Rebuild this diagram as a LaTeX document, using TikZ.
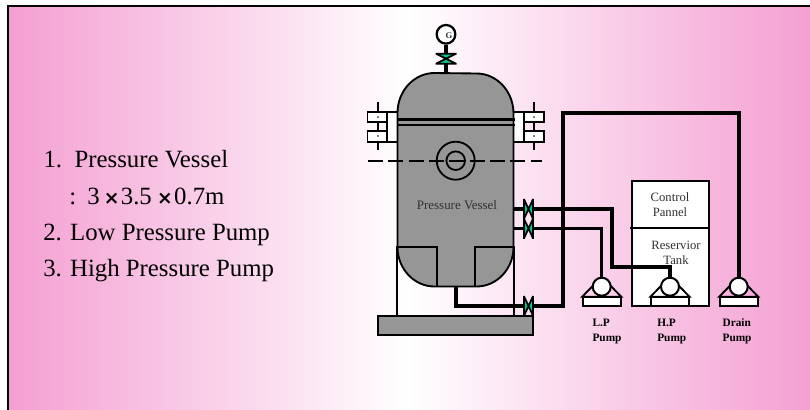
\documentclass[tikz,border=0pt]{standalone}
\usepackage{fontspec}
\setmainfont{Liberation Serif}
\newfontfamily\symfont{DejaVu Sans}
\definecolor{pinkE}{HTML}{F49FD2}
\definecolor{steel}{HTML}{969696}
\definecolor{valve}{HTML}{00C896}
\definecolor{labelgrey}{HTML}{303030}
\pgfdeclarehorizontalshading{bgshade}{100bp}{color(0bp)=(pinkE); color(25bp)=(pinkE); color(50bp)=(white); color(75bp)=(pinkE); color(100bp)=(pinkE)}
\tikzset{
  x=0.75pt,y=-0.75pt,
  fine/.style={draw=black,line width=1.35pt},
  pipe/.style={draw=black,line width=2.9pt},
  body/.style={draw=black,line width=1.4pt,fill=steel},
  whitebox/.style={draw=black,line width=1.35pt,fill=white},
  listtext/.style={font=\fontsize{18.6}{22}\selectfont,anchor=base west,inner sep=0pt},
  boxtext/.style={font=\fontsize{9.5}{11.25}\selectfont,align=center,inner sep=0pt,anchor=north,text=labelgrey},
  pumptext/.style={font=\fontsize{8.5}{11.25}\selectfont\bfseries,align=left,inner sep=0pt,anchor=north west},
  pumpcircle/.style={circle,draw=black,line width=1.5pt,fill=white,minimum size=13.5pt,inner sep=0pt},
}
\newcommand{\crossmark}{{\symfont\fontsize{14}{14}\selectfont\bfseries ×}}
\newcommand{\hvalve}[2]{%
  \fill[valve] (#1-4,#2-8) -- (#1-4,#2+8) -- (#1+0.5,#2) -- cycle;
  \fill[valve] (#1+4,#2-8) -- (#1+4,#2+8) -- (#1-0.5,#2) -- cycle;
  \draw[black,line width=1.7pt] (#1-4.6,#2-10) -- (#1-4.6,#2+10) (#1+4.6,#2-10) -- (#1+4.6,#2+10);
  \draw[black,line width=1.3pt] (#1-4.6,#2-10) -- (#1+4.6,#2+10) (#1+4.6,#2-10) -- (#1-4.6,#2+10);
}
\newcommand{\pumpunit}[2]{%
  \draw[whitebox] (#1-19,296.7) rectangle (#1+19,306);
  \draw[fine,line width=1.4pt] (#1-19.5,296.7) -- (#1,276.7) -- (#1+19.5,296.7) -- cycle;
  \node[pumpcircle] (#2) at (#1,286.7) {};
}
\begin{document}
\begin{tikzpicture}
\useasboundingbox (0,0) rectangle (810,410);
\fill[white] (0,0) rectangle (810,410);
\shade[shading=bgshade] (8,6) rectangle (810,410);
\draw[black,line width=1.5pt] (8,410) -- (8,6) -- (810,6);

% list
\node[listtext] (l1) at (43.3,167.3) {1.\ \ Pressure Vessel};
\node[listtext] (l2) at (69,204) {:\hspace{8.5pt}3\hspace{3pt}\crossmark\hspace{1pt}3.5\hspace{4pt}\crossmark\hspace{1pt}0.7m};
\node[listtext] (l3) at (43,240) {2. Low Pressure Pump};
\node[listtext] (l4) at (43,276) {3. High Pressure Pump};

% left flange
\draw[fine] (378,102) -- (378,149.5);
\draw[whitebox] (387,112) rectangle (398,142);
\draw[whitebox] (367.5,112) rectangle (387,122);
\draw[whitebox] (367.5,131) rectangle (387,142);
\fill (378,117) circle (0.9) (378,136) circle (0.9);
\draw[fine] (378,102) -- (378,112) (378,122) -- (378,131) (378,142) -- (378,149.5);

% right flange
\draw[whitebox] (513,112) rectangle (524,142);
\draw[whitebox] (524,112) rectangle (544,122);
\draw[whitebox] (524,131) rectangle (544,142);
\fill (534,117) circle (0.9) (534,136) circle (0.9);
\draw[fine] (534,102) -- (534,112) (534,122) -- (534,131) (534,142) -- (534,149.5);

% gauge and its valve
\node[circle,draw=black,line width=1.7pt,fill=white,minimum size=14pt,inner sep=0pt] (gauge) at (446,34.3) {};
\coordinate (gvtop) at (446,73);
\draw[pipe] (gauge.south) -- (gvtop);
\fill[valve] (438,54) -- (454,54) -- (446,59) -- cycle (438,64) -- (454,64) -- (446,59) -- cycle;
\draw[black,line width=1.4pt] (435.5,53.7) -- (456.5,53.7) (435.5,63.7) -- (456.5,63.7) (436,53.7) -- (456,63.7) (456,53.7) -- (436,63.7);
\node[font=\fontsize{6.5}{7}\selectfont\bfseries,inner sep=0pt,text=labelgrey] (gt) at (449,36) {G};

% vessel
\draw[body] (397.5,113) arc[x radius=37,y radius=40,start angle=180,end angle=270] -- (476.5,73.5) arc[x radius=37,y radius=40,start angle=270,end angle=360] -- (513.5,247) arc[x radius=37,y radius=39.5,start angle=0,end angle=90] -- (434.5,286.5) arc[x radius=37,y radius=39.5,start angle=90,end angle=180] -- cycle;
\draw[fine,line width=1.9pt] (397,119.3) -- (515,119.3);
\draw[fine,line width=1pt] (397,125) -- (515,125);
\draw[fine] (455.7,160.7) circle (19);
\draw[fine] (455.7,160.7) circle (9.3);
\draw[fine,dash pattern=on 11.25pt off 4pt] (368,160.7) -- (542,160.7);
\node[font=\fontsize{9.7}{11}\selectfont,inner sep=0pt,text=labelgrey,anchor=base] (pv) at (457,209.3) {Pressure Vessel};
\draw[fine] (397,316) -- (397,247) -- (436.7,247) -- (436.7,286.7);
\draw[fine] (475,286.7) -- (475,247) -- (514,247) -- (514,316);
\draw[fine,fill=steel] (378,316) rectangle (533.3,335);

% control box
\draw[whitebox] (632,180.7) rectangle (709,306);
\draw[fine] (630,228.3) -- (710,228.3);
\node[boxtext] (cp) at (670,192) {Control\\Pannel};
\node[boxtext] (rt) at (676,240.4) {Reservior\\Tank};

% pipes
\coordinate (ja) at (514,209);
\coordinate (jb) at (514,228.7);
\pumpunit{601.7}{pl}
\pumpunit{670}{ph}
\pumpunit{738.7}{pd}
\draw[pipe] (456,286) -- (456,306) -- (562.7,306) -- (562.7,113) -- (738.7,113) -- (pd.north);
\draw[pipe] (ja) -- (611.7,209) -- (611.7,267.3) -- (670,267.3) -- (ph.north);
\draw[pipe,line width=2.3pt] (jb) -- (601.7,228.7) -- (pl.north);

\hvalve{528.5}{209}
\hvalve{528.5}{228.5}
\hvalve{528.5}{306}

% pump labels
\node[pumptext] (a1) at (592.3,319) {L.P\\Pump};
\node[pumptext] (a2) at (657,319) {H.P\\Pump};
\node[pumptext] (a3) at (722.3,318) {Drain\\Pump};
\end{tikzpicture}
\end{document}
